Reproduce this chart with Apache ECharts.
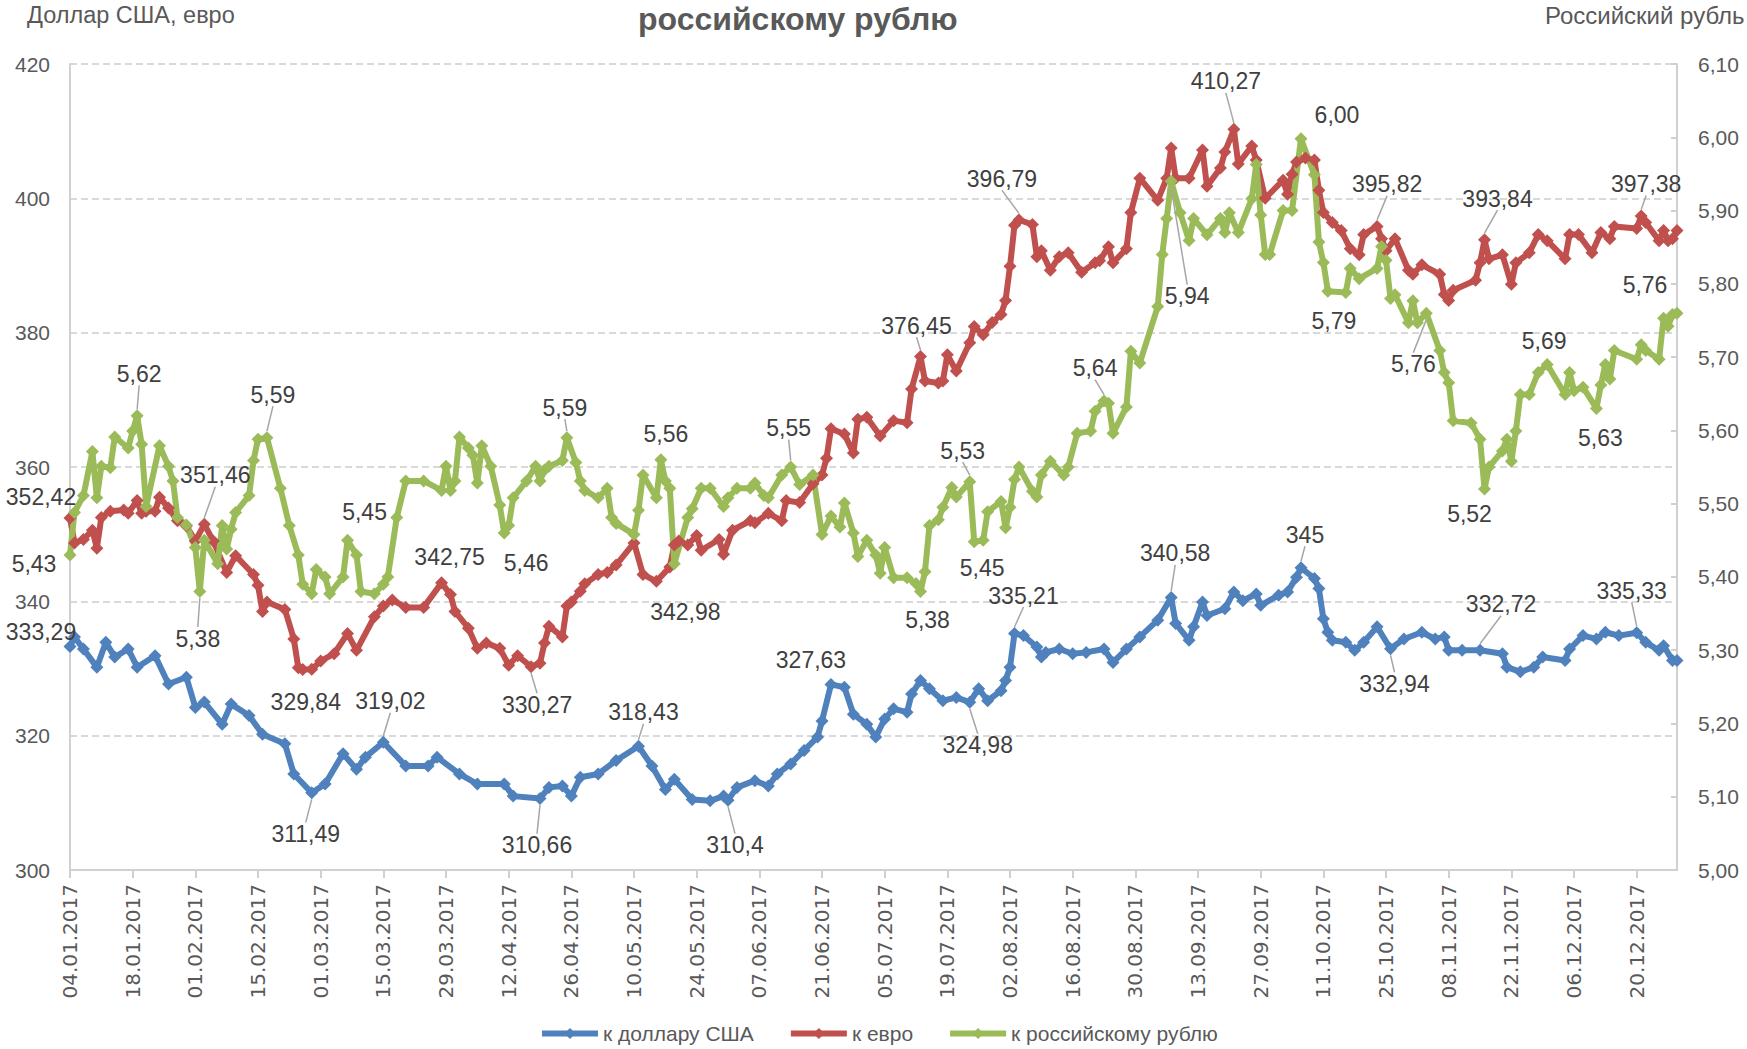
<!DOCTYPE html>
<html>
<head>
<meta charset="utf-8">
<script src="https://cdn.jsdelivr.net/npm/echarts@6/dist/echarts.min.js"></script>
<style>
html, body { margin: 0; padding: 0; background: #fff; }
#chart { width: 1747px; height: 1049px; }
</style>
</head>
<body>
<div id="chart"></div>
<script>
// подписи оси X (шаг 14 дней)
var xTickLabels = ['04.01.2017', '18.01.2017', '01.02.2017', '15.02.2017', '01.03.2017', '15.03.2017',
    '29.03.2017', '12.04.2017', '26.04.2017', '10.05.2017', '24.05.2017', '07.06.2017', '21.06.2017',
    '05.07.2017', '19.07.2017', '02.08.2017', '16.08.2017', '30.08.2017', '13.09.2017', '27.09.2017',
    '11.10.2017', '25.10.2017', '08.11.2017', '22.11.2017', '06.12.2017', '20.12.2017'];

// дни считаются от 04.01.2017
var usdDays = [0, 1, 3, 6, 8, 10, 13, 15, 19, 22, 26, 28, 30, 34, 36, 40, 43, 48, 50, 54, 57, 61, 64, 66, 70,
    75, 80, 82, 87, 91, 97, 99, 105, 107, 110, 112, 114, 118, 122, 127, 130, 133, 135, 139, 143, 146, 147,
    149, 153, 156, 158, 161, 164, 167, 168, 170, 173, 175, 178, 180, 182, 184, 187, 188, 190, 192, 195, 198,
    201, 203, 205, 208, 209, 210, 211, 213, 216, 217, 218, 221, 224, 227, 231, 233, 236, 239, 243, 246, 247,
    250, 251, 253, 254, 258, 260, 262, 265, 266, 270, 272, 274, 275, 278, 279, 280, 281, 282, 285, 287, 289,
    292, 295, 298, 302, 305, 307, 308, 311, 315, 320, 321, 324, 327, 329, 334, 335, 338, 341, 343, 346, 350,
    352, 355, 356, 358, 359];
var usdVals = [333.29, 334.7, 332.9, 330.2, 333.9, 331.7, 332.9, 330.2, 331.9, 327.7, 328.7, 324.2, 325.0,
    321.7, 324.7, 323.0, 320.2, 318.8, 314.3, 311.49, 312.8, 317.3, 315.0, 316.8, 319.02, 315.5, 315.5, 316.8,
    314.3, 312.8, 312.8, 311.0, 310.66, 312.3, 312.5, 311.0, 313.8, 314.3, 316.3, 318.43, 315.5, 312.0, 313.5,
    310.5, 310.3, 311.0, 310.4, 312.3, 313.3, 312.5, 314.3, 315.8, 317.8, 319.8, 322.2, 327.63, 327.2, 323.2,
    321.7, 319.8, 322.5, 324.0, 323.5, 326.2, 328.2, 327.0, 325.2, 325.7, 324.98, 327.0, 325.2, 326.7, 328.2,
    330.2, 335.21, 334.9, 333.2, 331.7, 332.4, 332.9, 332.2, 332.4, 332.9, 330.9, 332.9, 334.7, 337.2, 340.58,
    336.7, 334.2, 336.2, 339.9, 337.9, 338.9, 341.4, 340.1, 341.1, 339.4, 340.9, 341.4, 343.6, 345, 343.4,
    341.9, 337.4, 335.4, 334.2, 333.9, 332.7, 333.9, 336.2, 332.94, 334.4, 335.4, 334.4, 334.7, 332.7, 332.7,
    332.72, 332.2, 330.2, 329.5, 330.2, 331.7, 331.2, 332.9, 334.9, 334.4, 335.4, 334.9, 335.33, 333.9, 332.7,
    333.4, 331.2, 331.2];

var eurDays = [0, 1, 3, 5, 6, 7, 9, 12, 13, 15, 16, 17, 19, 20, 22, 24, 26, 28, 30, 32, 35, 37, 41, 42, 43, 44,
    48, 50, 51, 52, 54, 56, 59, 62, 64, 68, 70, 72, 75, 79, 83, 85, 86, 89, 91, 93, 96, 98, 100, 103, 105, 106,
    107, 110, 111, 112, 114, 115, 118, 120, 122, 126, 128, 131, 134, 135, 136, 138, 140, 141, 145, 146, 148,
    152, 153, 156, 159, 160, 163, 166, 168, 169, 170, 173, 175, 176, 178, 181, 184, 187, 188, 190, 191, 194,
    195, 196, 198, 201, 202, 204, 206, 208, 209, 210, 211, 212, 215, 216, 217, 219, 221, 223, 226, 229, 230,
    232, 233, 236, 237, 239, 243, 245, 246, 247, 250, 253, 254, 257, 258, 260, 261, 264, 265, 267, 271, 272,
    273, 274, 276, 278, 279, 280, 282, 284, 286, 288, 289, 292, 293, 294, 296, 299, 300, 302, 306, 307, 308,
    309, 314, 315, 316, 317, 320, 322, 323, 326, 328, 330, 334, 335, 337, 340, 342, 344, 345, 350, 351, 352,
    355, 356, 357, 358, 359];
var eurVals = [352.42, 348.7, 349.2, 350.6, 347.9, 352.5, 353.4, 353.6, 353.1, 355.0, 353.1, 353.4, 353.4,
    355.5, 353.9, 352.0, 351.2, 349.0, 351.46, 349.0, 344.3, 346.8, 344.0, 342.4, 338.5, 339.9, 338.8, 334.4,
    330.1, 329.84, 329.9, 331.1, 332.2, 335.2, 332.7, 337.7, 339.3, 340.2, 339.1, 339.1, 342.75, 341.0, 338.5,
    336.0, 333.0, 333.8, 333.0, 330.5, 331.9, 330.27, 330.8, 333.8, 336.3, 334.7, 339.3, 339.9, 341.5, 342.6,
    344.0, 344.3, 345.4, 348.7, 344.0, 342.98, 345.1, 348.4, 349.0, 348.4, 349.8, 347.6, 349.2, 347.0, 350.6,
    352.0, 351.7, 353.1, 352.0, 355.0, 354.7, 357.5, 358.8, 361.3, 365.7, 364.9, 362.1, 367.1, 367.4, 364.6,
    366.9, 366.6, 371.6, 376.45, 372.8, 372.5, 372.8, 376.7, 374.3, 378.5, 380.9, 379.7, 381.5, 382.7, 384.8,
    389.9, 396.0, 396.79, 396.1, 391.3, 392.2, 389.3, 391.3, 391.9, 389.0, 390.4, 390.7, 392.8, 390.4, 392.5,
    397.9, 403.0, 399.7, 403.0, 407.5, 403.0, 403.0, 407.2, 401.8, 404.5, 406.9, 410.27, 405.1, 407.8, 405.7,
    400.0, 402.7, 400.6, 403.6, 405.4, 406.0, 405.7, 401.2, 397.9, 396.4, 395.2, 392.5, 391.6, 394.6, 395.82,
    394.0, 392.2, 394.0, 389.3, 388.7, 390.1, 388.7, 385.7, 384.8, 386.3, 387.8, 390.4, 393.84, 391.0, 391.6,
    387.2, 390.4, 391.9, 394.6, 393.7, 391.0, 394.6, 394.6, 391.9, 394.9, 394.0, 395.8, 395.5, 397.38, 396.4,
    393.7, 395.2, 393.7, 394.0, 395.2];

var rubDays = [0, 1, 3, 5, 6, 7, 9, 10, 13, 14, 15, 16, 17, 20, 22, 23, 24, 26, 28, 29, 30, 33, 34, 35, 36, 37,
    40, 41, 42, 44, 47, 49, 51, 52, 54, 55, 57, 58, 61, 62, 64, 65, 68, 70, 71, 73, 75, 79, 83, 84, 85, 86, 87,
    89, 90, 91, 92, 94, 96, 97, 98, 99, 102, 104, 105, 106, 107, 110, 111, 113, 114, 115, 118, 120, 121, 122,
    126, 127, 128, 131, 132, 133, 134, 135, 138, 139, 141, 143, 146, 147, 149, 152, 153, 155, 156, 159, 161,
    163, 166, 168, 170, 172, 173, 175, 176, 178, 180, 181, 182, 184, 187, 189, 190, 191, 192, 194, 195, 197,
    198, 201, 202, 204, 205, 208, 209, 210, 211, 212, 215, 216, 217, 219, 222, 223, 225, 228, 229, 231, 232,
    233, 236, 237, 239, 243, 244, 245, 246, 248, 250, 251, 254, 257, 258, 259, 261, 264, 265, 266, 267, 268,
    271, 273, 275, 278, 279, 280, 281, 285, 286, 288, 292, 293, 294, 295, 296, 299, 300, 301, 303, 306, 307,
    308, 309, 313, 315, 316, 317, 320, 321, 322, 323, 324, 326, 328, 330, 334, 335, 336, 338, 341, 342, 343,
    344, 345, 350, 351, 352, 355, 356, 357, 358, 359];
var rubVals = [5.43, 5.488, 5.511, 5.571, 5.508, 5.551, 5.549, 5.591, 5.576, 5.599, 5.62, 5.581, 5.496, 5.579,
    5.551, 5.531, 5.481, 5.471, 5.44, 5.38, 5.45, 5.418, 5.47, 5.438, 5.465, 5.488, 5.511, 5.559, 5.588, 5.59,
    5.521, 5.47, 5.43, 5.39, 5.377, 5.41, 5.4, 5.377, 5.4, 5.45, 5.43, 5.38, 5.377, 5.39, 5.4, 5.481, 5.531,
    5.531, 5.518, 5.551, 5.518, 5.531, 5.591, 5.576, 5.566, 5.528, 5.579, 5.551, 5.498, 5.46, 5.47, 5.508,
    5.531, 5.551, 5.531, 5.546, 5.551, 5.559, 5.59, 5.556, 5.531, 5.518, 5.508, 5.521, 5.481, 5.473, 5.458,
    5.491, 5.539, 5.508, 5.56, 5.531, 5.521, 5.418, 5.481, 5.493, 5.521, 5.521, 5.496, 5.508, 5.521, 5.521,
    5.528, 5.511, 5.508, 5.539, 5.55, 5.526, 5.539, 5.458, 5.483, 5.468, 5.501, 5.46, 5.428, 5.45, 5.43, 5.405,
    5.44, 5.399, 5.399, 5.391, 5.38, 5.407, 5.47, 5.478, 5.495, 5.522, 5.509, 5.53, 5.448, 5.45, 5.489, 5.503,
    5.467, 5.495, 5.533, 5.55, 5.517, 5.509, 5.539, 5.558, 5.539, 5.55, 5.596, 5.599, 5.626, 5.64, 5.637,
    5.596, 5.632, 5.708, 5.692, 5.769, 5.84, 5.889, 5.94, 5.897, 5.859, 5.889, 5.867, 5.889, 5.87, 5.897, 5.87,
    5.916, 5.963, 5.894, 5.84, 5.84, 5.9, 5.9, 5.998, 5.949, 5.857, 5.829, 5.79, 5.788, 5.821, 5.807, 5.821,
    5.851, 5.832, 5.78, 5.785, 5.747, 5.777, 5.747, 5.76, 5.709, 5.679, 5.665, 5.613, 5.61, 5.588, 5.52, 5.55,
    5.572, 5.588, 5.558, 5.599, 5.649, 5.649, 5.679, 5.69, 5.649, 5.679, 5.654, 5.659, 5.63, 5.662, 5.69, 5.67,
    5.709, 5.697, 5.717, 5.709, 5.697, 5.753, 5.742, 5.758, 5.76];

// подписи значений: день -> [dx, dy, выноска]
var usdLabelPos = {
    0: [-29, -14, 0], 54: [-6, 41, 1], 70: [7, -41, 1], 105: [-3, 47, 1], 127: [5, -34, 1],
    147: [7, 45, 1], 170: [-20, -24, 0], 201: [8, 43, 1], 211: [9, -38, 1], 246: [4, -44, 1],
    275: [4, -33, 1], 295: [4, 35, 1], 315: [21, -46, 1], 350: [-5, -42, 1]
};
var eurLabelPos = {
    0: [-29, -21, 0], 30: [11, -49, 1], 52: [3, 32, 0], 83: [8, -26, 0], 103: [6, 38, 1],
    131: [29, 31, 0], 190: [-4, -31, 1], 212: [-17, -41, 1], 260: [-8, -48, 1], 292: [10, -42, 1],
    316: [13, -41, 1], 351: [5, -32, 1]
};
var rubLabelPos = {
    0: [-36, 9, 0], 15: [2, -42, 1], 29: [-2, 47, 1], 44: [6, -43, 1], 62: [17, -28, 0],
    97: [22, 30, 0], 111: [-2, -30, 1], 132: [5, -26, 0], 161: [-2, -39, 1], 190: [7, 28, 0],
    201: [-7, -31, 1], 204: [-1, 28, 0], 231: [-9, -33, 1], 246: [16, 115, 1], 275: [36, -24, 0],
    281: [6, 30, 0], 303: [-13, 51, 1], 316: [-15, 25, 0], 330: [-3, -23, 0], 341: [4, 30, 0],
    359: [-32, -28, 0]
};

var colors = ['#4F81BD', '#C0504D', '#9BBB59'];
var axisGray = '#d0d0d0';
var textGray = '#595959';

function buildData(days, vals, labelPos) {
    return days.map(function (d, i) {
        var lp = labelPos[d];
        if (!lp) return [d, vals[i]];
        return {
            value: [d, vals[i]],
            label: { show: true },
            labelLine: { show: !!lp[2] }
        };
    });
}

function generalFmt(v) {
    return String(v).replace('.', ',');
}

function makeSeries(name, idx, yAxisIndex, days, vals, labelPos, fmt) {
    return {
        name: name,
        type: 'line',
        yAxisIndex: yAxisIndex,
        data: buildData(days, vals, labelPos),
        symbol: 'diamond',
        symbolSize: 13,
        showAllSymbol: true,
        lineStyle: { width: 6, color: colors[idx] },
        itemStyle: { color: colors[idx] },
        label: {
            show: false,
            position: 'inside',
            color: '#404040',
            fontSize: 23,
            fontFamily: 'Liberation Sans',
            formatter: function (p) { return fmt(p.value[1]); }
        },
        labelLine: {
            show: false,
            lineStyle: { color: '#a6a6a6', width: 1.5 }
        },
        labelLayout: function (p) {
            var lp = labelPos[days[p.dataIndex]];
            if (!lp) return {};
            return { dx: lp[0], dy: lp[1] };
        },
        emphasis: { disabled: true }
    };
}

var chart = echarts.init(document.getElementById('chart'), null, { renderer: 'svg' });

var option = {
    animation: false,
    textStyle: { fontFamily: 'Liberation Sans' },
    title: {
        text: 'российскому рублю',
        left: 638,
        top: 0,
        padding: 0,
        textStyle: { fontSize: 32, lineHeight: 38, fontWeight: 'bold', color: textGray, fontFamily: 'Liberation Sans' }
    },
    graphic: [
        { type: 'text', left: 27, top: 3, style: { text: 'Доллар США, евро', fontSize: 23.5, fontFamily: 'Liberation Sans', fill: textGray } },
        { type: 'text', left: 1545, top: 3, style: { text: 'Российский рубль', fontSize: 24, fontFamily: 'Liberation Sans', fill: textGray } }
    ],
    legend: {
        left: 534,
        top: 1018,
        itemWidth: 56,
        itemHeight: 14,
        itemGap: 34,
        lineStyle: { width: 6 },
        textStyle: { fontSize: 21, color: textGray, fontFamily: 'Liberation Sans' },
        data: ['к доллару США', 'к евро', 'к российскому рублю']
    },
    grid: { left: 70, right: 70, top: 64, bottom: 179 },
    xAxis: {
        type: 'value',
        min: 0,
        max: 359,
        interval: 14,
        splitLine: { show: false },
        axisLine: { lineStyle: { color: axisGray, width: 2 } },
        axisTick: { show: true, length: 8, lineStyle: { color: axisGray, width: 2 } },
        axisLabel: {
            rotate: 90,
            margin: 14,
            showMaxLabel: false,
            fontSize: 20,
            fontFamily: 'DejaVu Sans',
            color: textGray,
            formatter: function (v) {
                return v % 14 === 0 && xTickLabels[v / 14] ? xTickLabels[v / 14] : '';
            }
        }
    },
    yAxis: [{
        type: 'value',
        min: 300,
        max: 420,
        interval: 20,
        axisLine: { show: true, lineStyle: { color: axisGray, width: 2 } },
        axisTick: { show: false },
        axisLabel: { margin: 20, fontSize: 21, color: textGray, fontFamily: 'Liberation Sans' },
        splitLine: { show: true, lineStyle: { color: '#d9d9d9', width: 2, type: [7, 4] } }
    }, {
        type: 'value',
        min: 5,
        max: 6.1,
        interval: 0.1,
        position: 'right',
        axisLine: { show: true, lineStyle: { color: axisGray, width: 2 } },
        axisTick: { show: true, inside: true, length: 6, lineStyle: { color: axisGray, width: 2 } },
        axisLabel: {
            margin: 21, fontSize: 21, color: textGray, fontFamily: 'Liberation Sans',
            formatter: function (v) { return v.toFixed(2).replace('.', ','); }
        },
        splitLine: { show: false }
    }],
    series: [
        makeSeries('к доллару США', 0, 0, usdDays, usdVals, usdLabelPos, generalFmt),
        makeSeries('к евро', 1, 0, eurDays, eurVals, eurLabelPos, generalFmt),
        makeSeries('к российскому рублю', 2, 1, rubDays, rubVals, rubLabelPos, function (v) {
            return v.toFixed(2).replace('.', ',');
        })
    ]
};

chart.setOption(option);
</script>
</body>
</html>
